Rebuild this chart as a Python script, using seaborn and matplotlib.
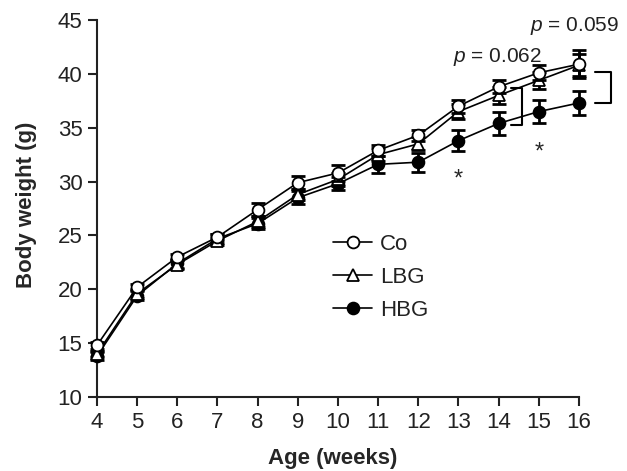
import numpy as np
import pandas as pd
import matplotlib
matplotlib.use("Agg")
import matplotlib.pyplot as plt
import seaborn as sns

sns.set_theme(style="ticks")
plt.rcParams['font.family'] = ['Liberation Sans Narrow', 'Liberation Sans', 'DejaVu Sans']
plt.rcParams['mathtext.fontset'] = 'custom'
plt.rcParams['mathtext.it'] = 'Liberation Sans:italic'
plt.rcParams['mathtext.rm'] = 'Liberation Sans'

weeks = [4, 5, 6, 7, 8, 9, 10, 11, 12, 13, 14, 15, 16]
co = [14.8, 20.2, 23.0, 24.85, 27.4, 29.9, 30.8, 32.9, 34.3, 37.0, 38.8, 40.1, 40.9]
co_err = [0.3, 0.3, 0.3, 0.3, 0.6, 0.6, 0.7, 0.5, 0.5, 0.6, 0.6, 0.7, 1.3]
lbg = [14.0, 19.6, 22.3, 24.5, 26.3, 28.8, 30.2, 32.5, 33.5, 36.5, 38.0, 39.4, 40.8]
lbg_err = [0.3, 0.4, 0.4, 0.4, 0.5, 0.5, 0.6, 0.6, 0.6, 0.7, 0.8, 0.8, 1.0]
hbg = [13.8, 19.4, 22.4, 24.7, 26.1, 28.5, 29.8, 31.6, 31.8, 33.8, 35.4, 36.5, 37.3]
hbg_err = [0.4, 0.4, 0.4, 0.4, 0.5, 0.6, 0.6, 0.8, 0.9, 1.0, 1.1, 1.1, 1.1]

groups = {
    'HBG': (hbg, hbg_err, 'o', 'black'),
    'LBG': (lbg, lbg_err, '^', 'white'),
    'Co': (co, co_err, 'o', 'white'),
}

fig = plt.figure(figsize=(6.27, 4.71), dpi=100)
ax = fig.add_axes([0.1547, 0.1571, 0.7687, 0.8004])

for z, (name, (vals, errs, mk, face)) in enumerate(groups.items()):
    df = pd.DataFrame({'week': weeks, 'weight': vals})
    ax.errorbar(weeks, vals, yerr=errs, fmt='none', ecolor='black',
                elinewidth=2, capsize=5, capthick=2, zorder=2 + z, clip_on=False)
    sns.lineplot(data=df, x='week', y='weight', ax=ax, color='black', lw=1.2,
                 marker=mk, markersize=8.5, markerfacecolor=face,
                 markeredgecolor='black', markeredgewidth=1.3,
                 label=name, zorder=3 + z, clip_on=False)

# significance brackets
ax.plot([14.3, 14.57, 14.57, 14.3], [38.7, 38.7, 35.25, 35.25], color='black', lw=1.5)
ax.plot([16.41, 16.79, 16.79, 16.41], [40.17, 40.17, 37.3, 37.3], color='black',
        lw=1.5, clip_on=False)
ax.text(12.86, 41.6, r'$p$ = 0.062', fontsize=15, family='Liberation Sans',
        va='center', ha='left', color='#222222')
ax.text(14.77, 44.4, r'$p$ = 0.059', fontsize=15, family='Liberation Sans',
        va='center', ha='left', color='#222222')
ax.text(13, 30.2, '*', fontsize=17, ha='center', va='center', family='Liberation Sans')
ax.text(15, 32.7, '*', fontsize=17, ha='center', va='center', family='Liberation Sans')

ax.set_xlim(4, 16)
ax.set_ylim(10, 45)
ax.set_xticks(weeks)
ax.set_yticks(range(10, 46, 5))
ax.tick_params(axis='both', labelsize=16, length=6.5, width=1.5, direction='out',
               color='#222222', labelcolor='#222222', pad=4)
for s in ['left', 'bottom']:
    ax.spines[s].set_linewidth(1.5)
    ax.spines[s].set_color('#222222')
sns.despine(ax=ax)

ax.set_xlabel('Age (weeks)', fontsize=16, fontweight='bold', family='Liberation Sans')
ax.set_ylabel('Body weight (g)', fontsize=16, fontweight='bold', family='Liberation Sans')
ax.xaxis.set_label_coords(0.49, -0.135)
ax.yaxis.set_label_coords(-0.125, 0.509)

h, l = ax.get_legend_handles_labels()
order = [l.index('Co'), l.index('LBG'), l.index('HBG')]
ax.legend([h[i] for i in order], [l[i] for i in order], loc='upper left',
          bbox_to_anchor=(0.49, 0.433), frameon=False, fontsize=16, borderpad=0,
          handlelength=1.75, handletextpad=0.35, labelspacing=0.55, borderaxespad=0,
          labelcolor='#222222')

fig.savefig('out.png', dpi=100)
